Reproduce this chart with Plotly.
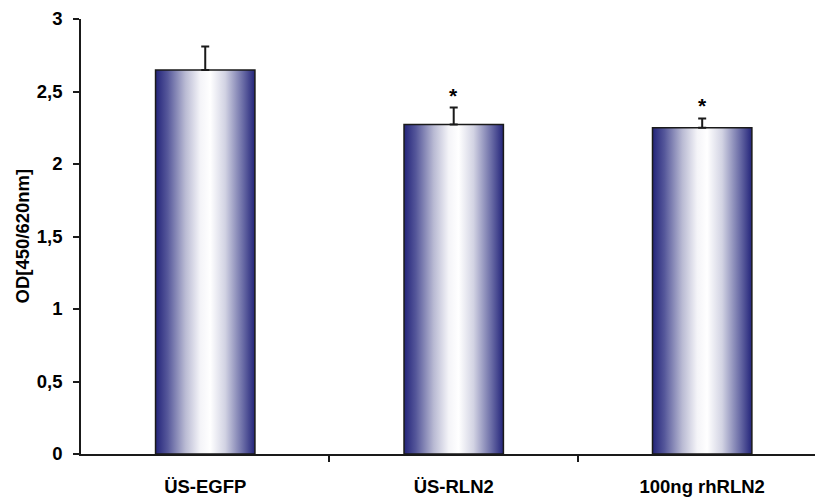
import plotly.graph_objects as go

categories = ["ÜS-EGFP", "ÜS-RLN2", "100ng rhRLN2"]
values = [2.648, 2.272, 2.25]
errors = [0.163, 0.117, 0.064]
significant = [False, True, True]
y_ticks = [0, 0.5, 1, 1.5, 2, 2.5, 3]

BAR_W = 0.4
FONT = dict(family="Liberation Sans, Arial, sans-serif", size=18.5, color="black", weight=700)
scale = [[0.0, "#23247a"], [0.12, "#55579a"], [0.3, "#b9bad3"], [0.45, "#f4f4f8"],
         [0.55, "#ffffff"], [0.7, "#d2d3e3"], [0.88, "#6a6ca6"], [1.0, "#23247a"]]

fig = go.Figure()
positions = list(range(len(categories)))
for xi, v in zip(positions, values):
    l, r = xi - BAR_W / 2, xi + BAR_W / 2
    fig.add_trace(go.Scatter(
        x=[l, l, r, r, l], y=[0, v, v, 0, 0], mode="lines", fill="toself",
        fillgradient=dict(type="horizontal", colorscale=scale),
        line=dict(color="#1a1a1a", width=1.5), showlegend=False, hoverinfo="skip"))

fig.add_trace(go.Scatter(
    x=positions, y=values, mode="markers", marker=dict(opacity=0, size=1),
    error_y=dict(type="data", symmetric=False, array=errors, arrayminus=[0] * len(errors),
                 color="#1a1a1a", thickness=2, width=4),
    showlegend=False, hoverinfo="skip"))

for xi, v, e, s in zip(positions, values, errors, significant):
    if s:
        fig.add_annotation(x=xi, y=v + e, text="*", showarrow=False, yanchor="bottom",
                           yshift=-1, font=dict(FONT, size=21))

fig.add_annotation(xref="paper", yref="paper", x=0, y=0.5, xanchor="center", yanchor="middle",
                   xshift=-59, yshift=0, text="OD[450/620nm]", textangle=-90,
                   showarrow=False, font=FONT)

fig.update_layout(
    width=815, height=497, margin=dict(l=81, r=0, t=19, b=38),
    paper_bgcolor="white", plot_bgcolor="white", separators=", ",
    font=FONT,
    xaxis=dict(range=[-0.5, 2.454], tickvals=positions, ticktext=categories, ticks="outside",
               ticklen=0, ticklabelstandoff=15, showline=True, linecolor="#1a1a1a", linewidth=1.5,
               showgrid=False, zeroline=False,
               minor=dict(tickvals=[0.5, 1.5], ticks="outside", ticklen=6, tickcolor="#1a1a1a", tickwidth=1.5)),
    yaxis=dict(range=[0, 3], tickvals=y_ticks, ticks="outside", ticklen=6, tickwidth=1.5,
               tickcolor="#1a1a1a", showline=True, linecolor="#1a1a1a", linewidth=1.5,
               showgrid=False, zeroline=False, ticklabelstandoff=7),
)

fig.write_html("out.html")
